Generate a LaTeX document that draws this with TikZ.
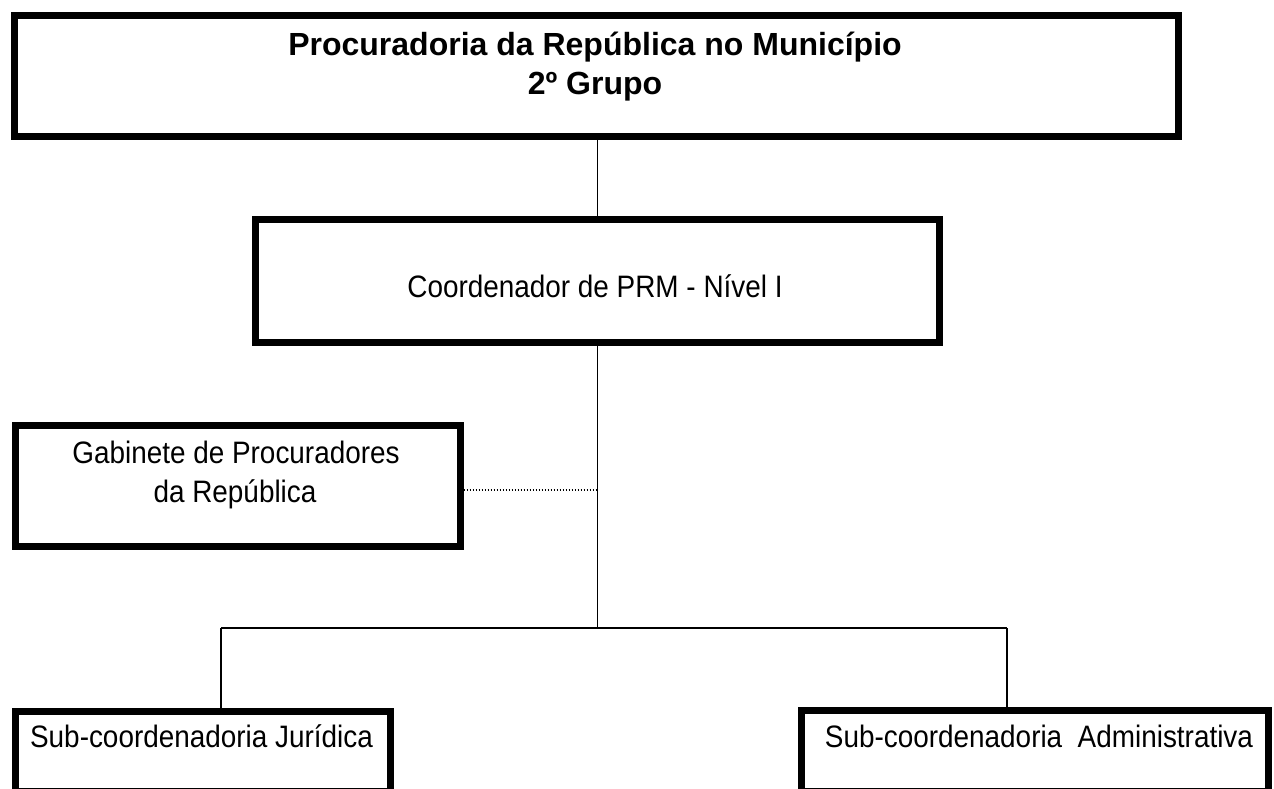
\documentclass[tikz,border=0pt]{standalone}
\usepackage{fontspec}
\setmainfont{Liberation Sans}
\newfontfamily\plainfont[FakeStretch=0.9]{Liberation Sans}
\begin{document}
\begin{tikzpicture}[x=1pt,y=-1pt,
  box/.style={draw=black,line width=7pt,rectangle,inner sep=0pt,fill=none},
  conn/.style={draw=black,line width=1.3pt},
  dotconn/.style={draw=black,line width=1.6pt,dash pattern=on 1.6pt off 1.4pt},
  titletext/.style={font=\fontsize{32}{39}\selectfont\bfseries,inner sep=0pt,anchor=base},
  plaintext/.style={font=\plainfont\fontsize{31}{39}\selectfont,inner sep=0pt,anchor=base}]
\useasboundingbox (0,0) rectangle (1274,789);
\clip (0,0) rectangle (1274,789);
\fill[white] (0,0) rectangle (1274,789);
% boxes
\node[box,minimum width=1163.5pt,minimum height=121.5pt] (top) at (596.25,76.25) {};
\node[box,minimum width=684.5pt,minimum height=123pt] (coord) at (597.25,280.5) {};
\node[box,minimum width=445pt,minimum height=121pt] (gab) at (237.5,485.5) {};
\node[box,minimum width=375pt,minimum height=80.5pt] (lb) at (202.5,751.25) {};
\node[box,minimum width=466.5pt,minimum height=81pt] (rb) at (1034.75,751) {};
% texts
\node[titletext] (t1) at (595,56) {Procuradoria da República no Município};
\node[titletext] (t2) at (595,95) {2º Grupo};
\node[plaintext] (ct) at (595,297) {Coordenador de PRM - Nível I};
\node[plaintext] (g1) at (236,463) {Gabinete de Procuradores};
\node[plaintext] (g2) at (235,502) {da República};
\node[plaintext] (lt) at (201.5,747) {Sub-coordenadoria Jurídica};
\node[plaintext] (rt) at (1039,747) {Sub-coordenadoria\ \ Administrativa};
% connector points
\coordinate (bus) at (597.25,628);
\coordinate (bl) at (221,628);
\coordinate (br) at (1007,628);
\coordinate (dj) at (597.25,490);
% connectors
\draw[conn] (coord.north) -- (coord.north |- top.south);
\draw[conn] (coord.south) -- (bus);
\draw[conn] (bl) -- (br);
\draw[conn] (bl) -- (bl |- lb.north);
\draw[conn] (br) -- (br |- rb.north);
\draw[dotconn] (dj -| gab.east) -- (dj);
\end{tikzpicture}
\end{document}
